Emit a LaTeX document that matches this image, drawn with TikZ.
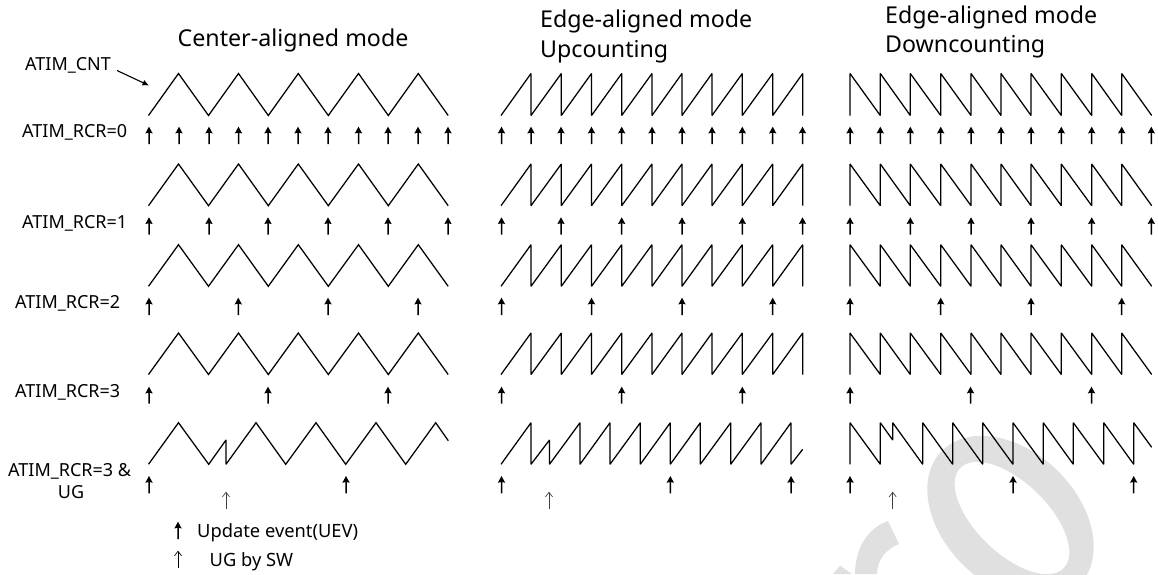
\documentclass[tikz,border=0pt]{standalone}
\usepackage{fontspec}
\setmainfont{Noto Sans}
\usetikzlibrary{arrows.meta,calc}
\definecolor{wm}{HTML}{E0E0E0}
\tikzset{
  wave/.style={draw=black,line width=1.25pt,line join=miter,miter limit=3},
  uevfill/.style={fill=black,draw=none},
  ugsw/.style={draw=black!75,line width=1pt,-{Straight Barb[length=4.5pt,width=7pt,line width=0.7pt]}},
  lbl/.style={font=\fontsize{18}{20}\selectfont,inner sep=0pt,anchor=base west},
  ttl/.style={font=\fontsize{23.2}{26}\selectfont,inner sep=0pt,anchor=base west},
  leg/.style={font=\fontsize{18.3}{20}\selectfont,inner sep=0pt,anchor=base west}
}
\newcommand{\centerwave}[2]{\draw[wave] (148.5,#2) -- (178.5,#1) -- (208.5,#2) -- (238.5,#1) -- (268.3,#2) -- (298.3,#1) -- (328.3,#2) -- (358.5,#1) -- (388.3,#2) -- (418.3,#1) -- (448.2,#2);}
\newcommand{\upwave}[2]{\draw[wave] (501,#2) foreach \x in {531,561.3,591.5,621.7,652,682,712,742.3,772.7,802.7} { -- (\x,#1) -- (\x,#2) };}
\newcommand{\downwave}[2]{\draw[wave] (850,#2) -- (850,#1) foreach \x in {880.3,910.3,940.7,971,1001,1031,1061.3,1091.7,1121.7} { -- (\x,#2) -- (\x,#1) } -- (1151.7,#2);}
% one update-event arrow: x, tip y, base y
\newcommand{\uevarrow}[3]{\fill[uevfill] (#1-0.75,#3) -- (#1-0.75,#2+6) -- (#1-3.7,#2+6.8) -- (#1,#2) -- (#1+3.7,#2+6.8) -- (#1+0.75,#2+6) -- (#1+0.75,#3) -- cycle;}
\newcommand{\uevs}[3]{\foreach \x in {#3} { \uevarrow{\x}{#1}{#2} }}
\begin{document}
\begin{tikzpicture}[x=1pt,y=-1pt]
\useasboundingbox (0,0) rectangle (1158,574);
% watermark
\begin{scope}
\clip (0,0) rectangle (1158,574);
\fill[wm,even odd rule] (1010.5,518) ellipse[x radius=96,y radius=66.7,rotate=-44]
                        (1012,518) ellipse[x radius=72,y radius=35.5,rotate=-44];
\fill[wm] (888,521) .. controls (868,528) and (855,548) .. (855,574) -- (877,574) .. controls (877,560) and (886,549) .. (899,544) -- cycle;
\fill[wm] (840,565.7) -- (833,574) -- (852,574) -- cycle;
\end{scope}
% titles
\node[ttl] (t1) at (177.5,46) {Center-aligned mode};
\node[ttl] (t2a) at (540,27) {Edge-aligned mode};
\node[ttl] (t2b) at (540,57) {Upcounting};
\node[ttl] (t3a) at (885,23.3) {Edge-aligned mode};
\node[ttl] (t3b) at (885,52.7) {Downcounting};
% labels
\node[lbl] (cnt) at (25,70.7) {ATIM\_CNT};
\node[lbl] (r0) at (22,137.7) {ATIM\_RCR=0};
\node[lbl] (r1) at (22,228.7) {ATIM\_RCR=1};
\node[lbl] (r2) at (15,308.3) {ATIM\_RCR=2};
\node[lbl] (r3) at (15,397.7) {ATIM\_RCR=3};
\node[lbl] (r4) at (8,476.7) {ATIM\_RCR=3 \&};
\node[lbl,anchor=base] (r4b) at (71,498.3) {UG};
\coordinate (cntfrom) at (117,70.5);
\coordinate (cntto) at (149,85.5);
\draw[draw=black,line width=1.1pt,-{Latex[length=6.5pt,width=6pt]}] (cntfrom) -- (cntto);
% centre-aligned
\centerwave{73.5}{115.5}
\centerwave{164}{205.7}
\centerwave{244.7}{286.3}
\centerwave{333}{374.5}
\draw[wave] (148.5,464.3) -- (178.5,422.7) -- (208.7,464.3) -- (226,440) -- (226,464.3) -- (256,422.7) -- (285.7,464.3) -- (316,422.7) -- (345.7,464.3) -- (376,422.7) -- (405.7,464.3) -- (435.7,422.7) -- (448.3,440.7);
\uevs{126.7}{144}{149,179,209,238.5,268,298,328,358.5,388,418,448}
\uevs{217.3}{234.5}{149,209,268,328,388,448}
\uevs{297.7}{315}{149,238.3,328,418}
\uevs{386.7}{403.7}{149,268,388}
\uevs{476}{493.3}{149,346}
\draw[ugsw] (226,509) -- (226,491.7);
% edge up
\upwave{73.5}{115.5}
\upwave{164}{205.7}
\upwave{244.7}{286.3}
\upwave{333}{374.5}
\draw[wave] (501,464.3) -- (531,422.7) -- (531,464.3) -- (549.5,440) -- (549.5,464.3) -- (580,422.7) -- (580,464.3) -- (610,422.7) -- (610,464.3) -- (640.3,422.7) -- (640.3,464.3) -- (670.3,422.7) -- (670.3,464.3) -- (700.3,422.7) -- (700.3,464.3) -- (730.7,422.7) -- (730.7,464.3) -- (761,422.7) -- (761,464.3) -- (791,422.7) -- (791,464.3) -- (802.7,449.3);
\uevs{126.7}{144}{501.5,531,561,591.5,621.7,652,682,712,742.3,772.7,802.5}
\uevs{217.3}{234.5}{501.5,561,621.7,682,742.3,802.5}
\uevs{297.7}{315}{501.5,591.5,682,772.7}
\uevs{386.7}{403.7}{501.5,621.7,742.3}
\uevs{476}{493.3}{501.5,670.3,791}
\draw[ugsw] (549,509) -- (549,491.7);
% edge down
\downwave{73.5}{115.5}
\downwave{164}{205.7}
\downwave{244.7}{286.3}
\downwave{333}{374.5}
\draw[wave] (850,464.3) -- (850,422.7) -- (880.3,464.3) -- (880.3,422.7) -- (892.7,440) -- (892.7,422.7) -- (922.7,464.3) -- (922.7,422.7) -- (952.7,464.3) -- (952.7,422.7) -- (982.7,464.3) -- (982.7,422.7) -- (1013,464.3) -- (1013,422.7) -- (1043.3,464.3) -- (1043.3,422.7) -- (1073.3,464.3) -- (1073.3,422.7) -- (1103.7,464.3) -- (1103.7,422.7) -- (1133.7,464.3) -- (1133.7,422.7) -- (1151.7,447.3);
\uevs{126.7}{144}{850,880.3,910.3,940.7,971,1001,1031,1061.3,1091.7,1121.7,1151.3}
\uevs{217.3}{234.5}{850,910.3,971,1031,1091.7,1151.3}
\uevs{297.7}{315}{850,940.7,1031,1121.7}
\uevs{386.7}{403.7}{850,970.5,1091.5}
\uevs{476}{493.3}{850,1013,1133.7}
\draw[ugsw] (892.7,509) -- (892.7,491.7);
% legend
\uevarrow{178}{521.7}{539}
\node[leg] (l1) at (197,537.3) {Update event(UEV)};
\draw[ugsw,draw=black] (178,568) -- (178,550.7);
\node[leg] (l2) at (209.5,566) {UG by SW};
\end{tikzpicture}
\end{document}
